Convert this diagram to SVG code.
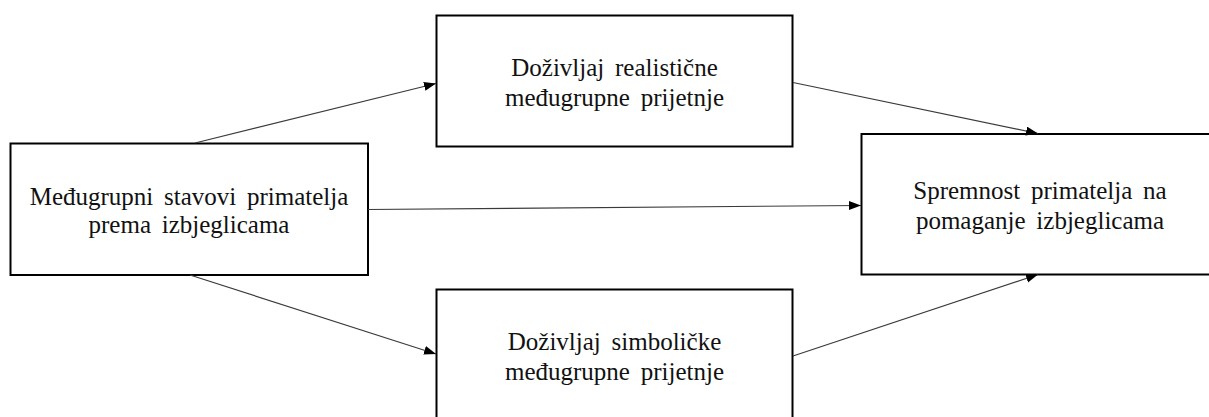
<svg xmlns="http://www.w3.org/2000/svg" width="1209" height="417" viewBox="0 0 1209 417">
  <style>
    .box { fill: #ffffff; stroke: #000000; stroke-width: 2; }
    .lbl { font-family: "Liberation Serif", "Times New Roman", serif; font-size: 25px; fill: #111111; text-anchor: middle; word-spacing: 4.5px; }
    .conn { stroke: #3a3a3a; stroke-width: 1.1; fill: none; marker-end: url(#arrow); }
  </style>
  <defs>
    <marker id="arrow" markerUnits="userSpaceOnUse" markerWidth="13" markerHeight="10" refX="12" refY="4.5" orient="auto">
      <path d="M0,0 L12,4.5 L0,9 z" fill="#000000"/>
    </marker>
  </defs>
  <rect x="0" y="0" width="1209" height="417" fill="#ffffff"/>

  <g id="node-attitudes">
    <rect class="box" x="10.5" y="143.5" width="357.5" height="131.5"/>
    <text class="lbl" x="189" y="205">Međugrupni stavovi primatelja</text>
    <text class="lbl" x="189" y="233">prema izbjeglicama</text>
  </g>

  <g id="node-realistic">
    <rect class="box" x="436.5" y="15.5" width="356" height="131"/>
    <text class="lbl" x="614.5" y="76">Doživljaj realistične</text>
    <text class="lbl" x="614.5" y="106">međugrupne prijetnje</text>
  </g>

  <g id="node-symbolic">
    <rect class="box" x="436.5" y="289.5" width="356" height="131"/>
    <text class="lbl" x="614.5" y="350">Doživljaj simboličke</text>
    <text class="lbl" x="614.5" y="380">međugrupne prijetnje</text>
  </g>

  <g id="node-readiness">
    <rect class="box" x="861.5" y="134" width="357" height="140.5"/>
    <text class="lbl" x="1040" y="199">Spremnost primatelja na</text>
    <text class="lbl" x="1040" y="229">pomaganje izbjeglicama</text>
  </g>

  <g id="connectors">
    <line class="conn" x1="195" y1="143" x2="436" y2="83.5"/>
    <line class="conn" x1="793" y1="82.5" x2="1038" y2="133.5"/>
    <line class="conn" x1="368" y1="209.5" x2="861" y2="205.5"/>
    <line class="conn" x1="190" y1="275" x2="436" y2="354"/>
    <line class="conn" x1="793" y1="356" x2="1038" y2="274.5"/>
  </g>
</svg>
